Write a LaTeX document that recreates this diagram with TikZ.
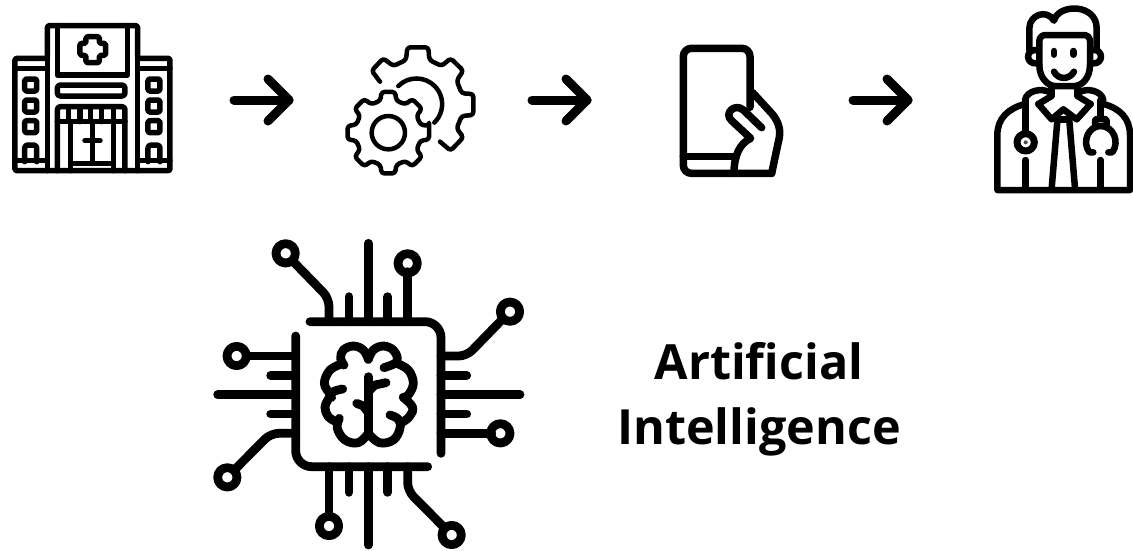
\documentclass[tikz,border=0pt]{standalone}
\usepackage{fontspec}
\setmainfont{Open Sans}
\usetikzlibrary{calc}
\tikzset{
  x=1pt,y=1pt,
  icon/.style={line cap=round,line join=round,draw=black},
  zoomframe/.style 2 args={shift={(#1,-#2)},xscale=0.33333,yscale=-0.33333},
  flowline/.style={line width=9pt,line cap=round,line join=round,draw=black},
  label/.style={font=\fontsize{48.5}{65}\selectfont\bfseries,align=center,text=black,inner sep=0pt},
}
\begin{document}
\begin{tikzpicture}
\useasboundingbox (0,0) rectangle (1133,-550);
\fill[white] (0,0) rectangle (1133,-550);

% ---------- hospital
\begin{scope}[zoomframe={0}{10},icon,line width=5.5pt]
 \draw[rounded corners=1.5pt] (142,140) -- (142,47) -- (413,47) -- (413,140);
 \draw[rounded corners=1.5pt] (142,145) -- (45,145) -- (45,482) -- (510,482) -- (510,145) -- (413,145);
 \draw (45,175) -- (142,175) (413,175) -- (510,175);
 \draw (142,140) -- (142,482) (413,140) -- (413,482);
 \draw (172,47) -- (172,195) -- (382,195) -- (382,47);
 \draw[rounded corners=1.5pt] (240,100) -- (258,100) -- (258,80) -- (298,80) -- (298,100) -- (317,100) -- (317,136) -- (298,136) -- (298,158) -- (258,158) -- (258,136) -- (240,136) -- cycle;
 \draw[rounded corners=3pt] (172,225) rectangle (375,258);
 \draw[rounded corners=3pt] (172,482) -- (172,290) -- (375,290) -- (375,482);
 \draw (172,335) -- (375,335);
 \foreach \tx in {205,240,272,305,340} {\draw (\tx,290) -- (\tx,335);}
 \draw (212,335) -- (212,482) (340,335) -- (340,482);
 \draw (278,335) -- (278,460) (255,392) -- (300,392);
 \draw (212,460) -- (340,460);
 \foreach \wx in {92,462} {
  \foreach \wy in {225,288,350} {\draw[rounded corners=1.5pt] (\wx-18,\wy-18) rectangle (\wx+18,\wy+18);}
  \draw[rounded corners=3pt] (\wx-18,455) -- (\wx-18,405) -- (\wx+18,405) -- (\wx+18,455);
 }
 \draw (45,452) -- (142,452) (413,452) -- (510,452);
\end{scope}

% ---------- gears
\begin{scope}[zoomframe={330}{30},icon,line width=4.5pt]
 \draw[rounded corners=3pt] (150,155) -- (125,122) -- (160,85) -- (190,108) -- (228,90) -- (232,52) -- (295,52) -- (298,90) -- (335,108) -- (362,85) -- (400,122) -- (380,152) -- (395,190) -- (430,192) -- (430,255) -- (395,258) -- (380,295) -- (400,322) -- (362,362) -- (330,335);
 \draw (205,168) arc[start angle=-135,end angle=46,radius=77];
 \begin{scope}[shift={(175,308)}]
  \draw[rounded corners=3pt] (-9.5:124)
   \foreach \ta in {0,45,...,315} {
     -- (\ta-9.5:124) -- (\ta+9.5:124) -- (\ta+14:99) -- (\ta+31:99)
   } -- cycle;
  \draw (0,0) circle[radius=50];
 \end{scope}
\end{scope}

% ---------- phone
\begin{scope}[zoomframe={660}{30},icon,line width=7.5pt]
 \draw[rounded corners=8pt] (270,232) -- (270,55) -- (70,55) -- (70,430) -- (335,430);
 \draw (335,430) -- (358,322) .. controls (363,295) and (352,270) .. (335,250) -- (278,188);
 \draw (70,380) -- (228,380);
 \draw (305,293) -- (250,240) .. controls (225,218) and (190,250) .. (215,272) -- (272,325) .. controls (240,340) and (222,375) .. (222,430);
\end{scope}

% ---------- doctor
\begin{scope}[zoomframe={980}{0},icon,line width=6.5pt]
 % hair
 \draw (148,150) -- (148,85) .. controls (148,45) and (200,25) .. (222,62) .. controls (235,10) and (350,10) .. (350,85) -- (350,150);
 % face
 \draw[rounded corners=6pt] (178,195) -- (178,105) -- (330,105) -- (330,195);
 \draw (178,195) .. controls (178,235) and (205,258) .. (225,258) -- (283,258) .. controls (305,258) and (330,235) .. (330,195);
 % ears
 \draw (172,150) .. controls (135,145) and (135,195) .. (172,190);
 \draw (336,150) .. controls (372,145) and (372,195) .. (336,190);
 % eyes, smile
 \draw (222,153) -- (222,164) (280,153) -- (280,164);
 \draw (222,215) .. controls (235,240) and (268,240) .. (282,215);
 % neck
 \draw (215,258) -- (215,285) (292,258) -- (292,285);
 % collar
 \draw (135,300) .. controls (140,272) and (185,262) .. (212,278);
 \draw (370,300) .. controls (365,272) and (320,262) .. (295,278);
 \draw (175,312) -- (215,288) (332,312) -- (292,288);
 \draw (175,312) -- (215,358) -- (250,328) -- (290,358) -- (332,312);
 % tie
 \draw (232,362) -- (215,565) (268,362) -- (285,565);
 \draw (236,358) -- (264,358);
 % body
 \draw (135,312) .. controls (85,325) and (52,355) .. (52,405) -- (52,570) -- (450,570) -- (450,405) .. controls (450,355) and (420,325) .. (370,312);
 % left tube and disk
 \draw (137,300) -- (137,395) (137,480) -- (137,565);
 \draw[line width=7pt] (137,427) circle[radius=26];
 \fill[black!70] (137,427) circle[radius=6];
 % right tube
 \draw (362,300) -- (362,355) (362,480) -- (362,565);
 \draw[rounded corners=2pt] (345,375) -- (345,357) -- (380,357) -- (380,375);
 \draw (340,457) -- (328,457) .. controls (305,425) and (325,378) .. (362,378) .. controls (400,378) and (420,425) .. (397,457) -- (385,457);
\end{scope}

% ---------- chip
\begin{scope}[zoomframe={205}{230},icon,line width=8.8pt]
 \draw[rounded corners=16pt] (315,275) -- (708,275) -- (708,670);
 \draw[rounded corners=16pt] (668,710) -- (272,710) -- (272,318);
 \draw[rounded corners=8pt] (372,275) -- (372,205) -- (265,95);
 \draw (432,275) -- (432,200) (490,275) -- (490,40) (548,275) -- (548,200) (608,275) -- (608,125);
 \draw[rounded corners=8pt] (708,378) -- (785,378) -- (890,270);
 \draw (708,436) -- (785,436) (708,494) -- (945,494) (708,552) -- (785,552) (708,610) -- (860,610);
 \draw (272,378) -- (125,378) (272,436) -- (197,436) (272,494) -- (38,494) (272,552) -- (197,552);
 \draw[rounded corners=8pt] (272,610) -- (197,610) -- (90,718);
 \draw (372,710) -- (372,860) (432,710) -- (432,787) (490,710) -- (490,945) (548,710) -- (548,787);
 \draw[rounded corners=8pt] (608,710) -- (608,782) -- (715,890);
 \foreach \bx/\by in {242/70,608/100,915/245,886/610,95/378,67/742,372/888,740/915}
   {\draw (\bx,\by) circle[radius=29];}
\end{scope}

% ---------- brain
\begin{scope}[zoomframe={300}{320},icon,line width=8.8pt]
 \draw plot[smooth,tension=0.65] coordinates {(205,118) (190,90) (160,78) (130,90) (122,115) (132,135)};
 \draw plot[smooth,tension=0.65] coordinates {(205,118) (220,90) (250,78) (280,90) (292,115) (285,130) (252,143)};
 \draw plot[smooth,tension=0.65] coordinates {(125,132) (90,150) (73,190) (90,222) (95,232)};
 \draw plot[smooth,tension=0.65] coordinates {(290,130) (325,150) (340,190) (325,225) (310,232)};
 \draw plot[smooth,tension=0.65] coordinates {(128,207) (100,215) (88,232) (75,262) (85,290) (108,305)};
 \draw plot[smooth,tension=0.65] coordinates {(310,232) (338,262) (328,290) (305,308)};
 \draw plot[smooth,tension=0.65] coordinates {(118,295) (112,325) (135,360) (175,368) (205,340)};
 \draw plot[smooth,tension=0.65] coordinates {(270,285) (295,298) (300,325) (280,360) (238,368) (205,340)};
 \draw (205,170) -- (205,340);
 \draw (205,215) -- (225,195) -- (258,188);
 \draw (205,278) -- (190,258) -- (170,250);
\end{scope}

% ---------- arrows
\coordinate (hospitalExit) at (234,-100);
\coordinate (gearsEntry) at (289,-100);
\coordinate (gearsExit) at (532,-100);
\coordinate (phoneEntry) at (587,-100);
\coordinate (phoneExit) at (853,-100);
\coordinate (doctorEntry) at (908,-100);
\foreach \fa/\fb in {hospitalExit/gearsEntry,gearsExit/phoneEntry,phoneExit/doctorEntry} {
  \draw[flowline] (\fa) -- (\fb);
  \draw[flowline] ($(\fb)+(-21,21)$) -- (\fb) -- ($(\fb)+(-21,-21)$);
}

% ---------- label
\node[label] (ailabel) at (759,-399) {Artificial\\Intelligence};
\end{tikzpicture}
\end{document}
